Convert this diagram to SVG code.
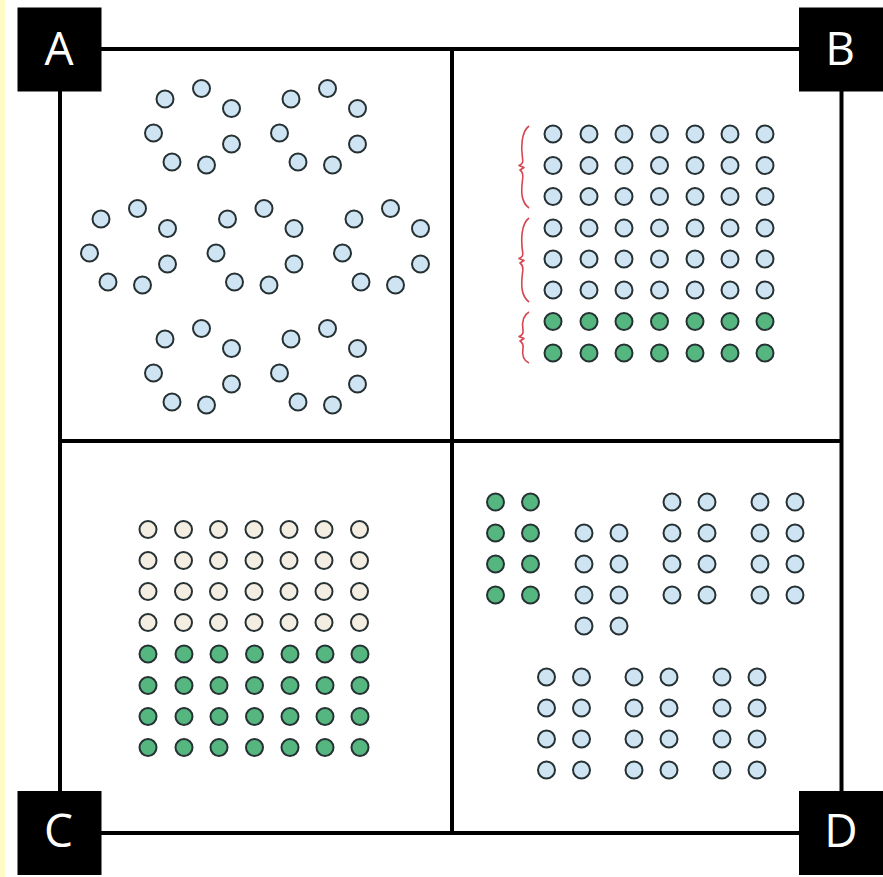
<svg xmlns="http://www.w3.org/2000/svg" xmlns:xlink="http://www.w3.org/1999/xlink" width="883" height="877" viewBox="0 0 883 877">
<style>
circle{stroke:#263134;stroke-width:2}
.b{fill:#cfe4f2}
.g{fill:#55b77f}
.c{fill:#f4ede2}
.frame{stroke:#000;stroke-width:4;fill:none}
.lab{fill:#fff;font-family:"Open Sans","Liberation Sans",sans-serif;font-size:46px;text-anchor:middle}
.brace{fill:none;stroke:#d5464f;stroke-width:1.6;stroke-linejoin:round}
</style>
<defs>
<g id="ring">
<circle class="b" cx="0" cy="0" r="8.5"/>
<circle class="b" cx="36.5" cy="-10.5" r="8.5"/>
<circle class="b" cx="66.5" cy="9.5" r="8.5"/>
<circle class="b" cx="-11.5" cy="34" r="8.5"/>
<circle class="b" cx="66.5" cy="45" r="8.5"/>
<circle class="b" cx="7" cy="63" r="8.5"/>
<circle class="b" cx="41.5" cy="66" r="8.5"/>
</g>
<g id="row7b">
<circle class="b" cx="0" cy="0" r="8.5"/><circle class="b" cx="36" cy="0" r="8.5"/><circle class="b" cx="71" cy="0" r="8.5"/><circle class="b" cx="106.5" cy="0" r="8.5"/><circle class="b" cx="142" cy="0" r="8.5"/><circle class="b" cx="177" cy="0" r="8.5"/><circle class="b" cx="212" cy="0" r="8.5"/>
</g>
<g id="row7g">
<circle class="g" cx="0" cy="0" r="8.5"/><circle class="g" cx="36" cy="0" r="8.5"/><circle class="g" cx="71" cy="0" r="8.5"/><circle class="g" cx="106.5" cy="0" r="8.5"/><circle class="g" cx="142" cy="0" r="8.5"/><circle class="g" cx="177" cy="0" r="8.5"/><circle class="g" cx="212" cy="0" r="8.5"/>
</g>
<g id="row7c">
<circle class="c" cx="0" cy="0" r="8.5"/><circle class="c" cx="35.5" cy="0" r="8.5"/><circle class="c" cx="70.5" cy="0" r="8.5"/><circle class="c" cx="106" cy="0" r="8.5"/><circle class="c" cx="141" cy="0" r="8.5"/><circle class="c" cx="176" cy="0" r="8.5"/><circle class="c" cx="211.5" cy="0" r="8.5"/>
</g>
<g id="pair4b">
<circle class="b" cx="0" cy="0" r="8.5"/><circle class="b" cx="35" cy="0" r="8.5"/>
<circle class="b" cx="0" cy="31" r="8.5"/><circle class="b" cx="35" cy="31" r="8.5"/>
<circle class="b" cx="0" cy="62" r="8.5"/><circle class="b" cx="35" cy="62" r="8.5"/>
<circle class="b" cx="0" cy="93" r="8.5"/><circle class="b" cx="35" cy="93" r="8.5"/>
</g>
<g id="pair4g">
<circle class="g" cx="0" cy="0" r="8.5"/><circle class="g" cx="35" cy="0" r="8.5"/>
<circle class="g" cx="0" cy="31" r="8.5"/><circle class="g" cx="35" cy="31" r="8.5"/>
<circle class="g" cx="0" cy="62" r="8.5"/><circle class="g" cx="35" cy="62" r="8.5"/>
<circle class="g" cx="0" cy="93" r="8.5"/><circle class="g" cx="35" cy="93" r="8.5"/>
</g>
</defs>
<rect width="883" height="877" fill="#fff"/>
<rect x="0" y="0" width="5" height="877" fill="#fffac6"/>

<g id="frame">
<rect class="frame" x="60" y="49" width="781.5" height="784"/>
<line class="frame" x1="452" y1="49" x2="452" y2="833"/>
<line class="frame" x1="60" y1="441" x2="841.5" y2="441"/>
</g>

<g id="quadrant-A">
<use xlink:href="#ring" x="165" y="99"/>
<use xlink:href="#ring" x="291" y="99"/>
<use xlink:href="#ring" x="101" y="219"/>
<use xlink:href="#ring" x="227.5" y="219"/>
<use xlink:href="#ring" x="354" y="219"/>
<use xlink:href="#ring" x="165" y="339"/>
<use xlink:href="#ring" x="291" y="339"/>
</g>

<g id="quadrant-B">
<use xlink:href="#row7b" x="553" y="134"/>
<use xlink:href="#row7b" x="553" y="165.5"/>
<use xlink:href="#row7b" x="553" y="196.5"/>
<use xlink:href="#row7b" x="553" y="228"/>
<use xlink:href="#row7b" x="553" y="259"/>
<use xlink:href="#row7b" x="553" y="290"/>
<use xlink:href="#row7g" x="553" y="321.5"/>
<use xlink:href="#row7g" x="553" y="353"/>
<path class="brace" d="M529,126 C521,132 521,148 522.5,158 C523.5,163 522,164 519,165.5 L524,167.5 L520,170 C523,172 523.5,175 522.5,180 C521,192 521,202 529,208"/>
<path class="brace" d="M529,218 C521,224 521,240 522.5,251 C523.5,256 522,257 519,258.5 L524,260.5 L520,263 C523,265 523.5,268 522.5,273 C521,285 521,296 529,302"/>
<path class="brace" d="M529,312 C522,316 522,324 523,330 C523.5,334 522,335 519,336.5 L524,338.5 L520,341 C523,343 523.5,345 523,348 C522,354 522,360 529,363"/>
</g>

<g id="quadrant-C">
<use xlink:href="#row7c" x="148" y="529.5"/>
<use xlink:href="#row7c" x="148" y="560.5"/>
<use xlink:href="#row7c" x="148" y="591.5"/>
<use xlink:href="#row7c" x="148" y="622.5"/>
<use xlink:href="#row7g" x="148" y="654"/>
<use xlink:href="#row7g" x="148" y="685.5"/>
<use xlink:href="#row7g" x="148" y="716.5"/>
<use xlink:href="#row7g" x="148" y="747.5"/>
</g>

<g id="quadrant-D">
<use xlink:href="#pair4g" x="495.5" y="502"/>
<use xlink:href="#pair4b" x="584" y="533"/>
<use xlink:href="#pair4b" x="672" y="502"/>
<use xlink:href="#pair4b" x="760" y="502"/>
<use xlink:href="#pair4b" x="546.5" y="677"/>
<use xlink:href="#pair4b" x="634" y="677"/>
<use xlink:href="#pair4b" x="722" y="677"/>
</g>

<g id="label-A"><rect x="17.5" y="7.5" width="84" height="84" fill="#000"/><text class="lab" x="59" y="65">A</text></g>
<g id="label-B"><rect x="799" y="7.5" width="84" height="84" fill="#000"/><text class="lab" x="840" y="65">B</text></g>
<g id="label-C"><rect x="17.5" y="791" width="84" height="84" fill="#000"/><text class="lab" x="58.5" y="847">C</text></g>
<g id="label-D"><rect x="799" y="791" width="84" height="84" fill="#000"/><text class="lab" x="841" y="847">D</text></g>
</svg>
